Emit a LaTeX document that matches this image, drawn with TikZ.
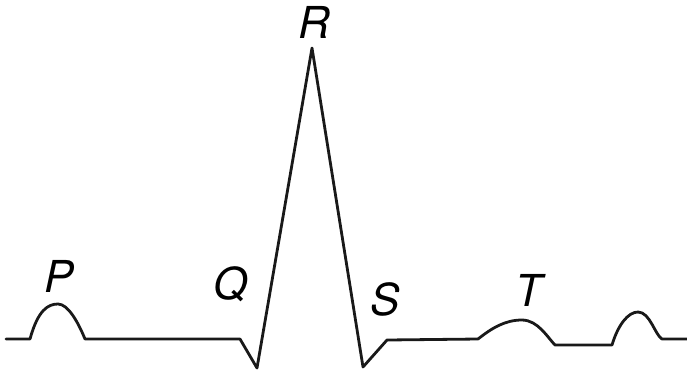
\documentclass[tikz,border=0pt]{standalone}
\usepackage{fontspec}
\setmainfont{TeX Gyre Heros}
\begin{document}
\begin{tikzpicture}[x=1pt,y=-1pt,
  wave/.style={line width=2.8pt,line join=round,line cap=round,black!90},
  lbl/.style={font=\fontsize{44}{44}\selectfont\itshape,inner sep=0pt,anchor=center}]
\useasboundingbox (0,0) rectangle (687,376);
\draw[wave] (6,339) -- (30,339)
  .. controls (38,310) and (48,304) .. (58,304)
  .. controls (68,304) and (78,322) .. (85,339)
  -- (240,339) -- (257,368) -- (312,48) -- (363,367) -- (387,340)
  -- (478,339)
  .. controls (492,328) and (505,320) .. (522,320)
  .. controls (538,320) and (548,338) .. (555,345)
  -- (612,345)
  .. controls (618,325) and (628,312) .. (638,312)
  .. controls (650,312) and (655,335) .. (662,339)
  -- (687,339);
\node[lbl] (p) at (59,276) {P};
\node[lbl] (q) at (231,284) {Q};
\node[lbl] (r) at (314,22) {R};
\node[lbl] (s) at (385,299) {S};
\node[lbl] (t) at (529,290) {T};
\end{tikzpicture}
\end{document}
